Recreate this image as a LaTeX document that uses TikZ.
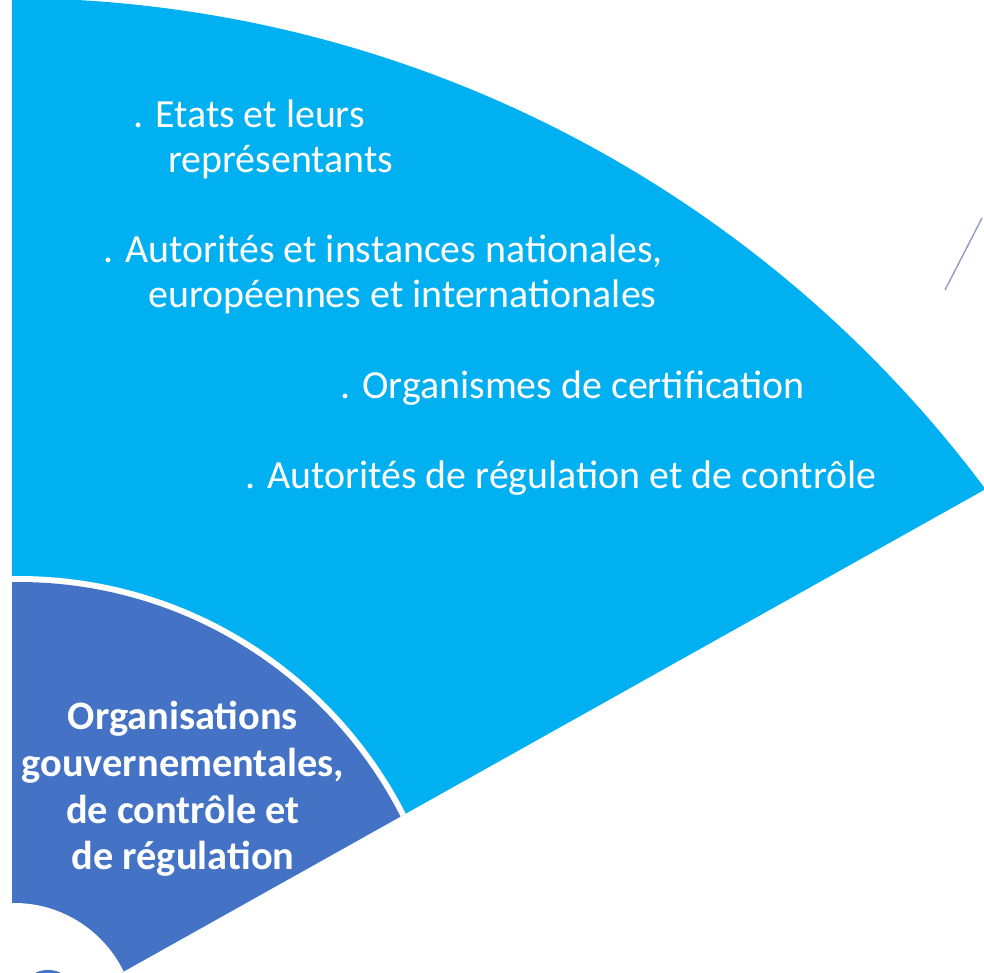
\documentclass[tikz,border=0pt]{standalone}
\usepackage{fontspec}
\setmainfont{Carlito}
\usepackage{tikz}
\usetikzlibrary{calc}
\definecolor{ringlight}{HTML}{00B0F0}
\definecolor{ringdark}{HTML}{4472C4}
\definecolor{tickline}{HTML}{8E9CC8}

\begin{document}
\begin{tikzpicture}[x=0.02cm,y=-0.02cm,
  item/.style={text=white,font=\fontsize{22.7}{26}\selectfont,anchor=base west,inner sep=0pt},
  title/.style={text=white,font=\bfseries\fontsize{23}{26.6}\selectfont,align=center,inner sep=0pt}]
\useasboundingbox (0,0) rectangle (984,973);

% sector pieces, cut at the left edge and along the radial line
\begin{scope}
\clip (12,0) -- (984,0) -- (984,490) -- (121,973) -- (12,973) -- cycle;
\fill[ringlight] (7,1218) circle[radius=1220];
\fill[white] (18,1011) circle[radius=435];
\fill[ringdark] (18,1011) circle[radius=429];
\fill[white] (14,1025) circle[radius=122];
%\fill[ringdark] (14,1025) circle[radius=60];
\fill[ringdark] (48,1000) circle[radius=30];
\end{scope}

\coordinate (L1) at (982,218);
\coordinate (L2) at (945,290);
\draw[tickline,line width=0.8pt] (L1) -- (L2);

\node[item] (T1) at (133,128) {. Etats et leurs};
\node[item] (T2) at (168,173) {représentants};
\node[item] (T3) at (103,263) {. Autorités et instances nationales,};
\node[item] (T4) at (148,308) {européennes et internationales};
\node[item] (T5) at (340,398) {. Organismes de certification};
\node[item] (T6) at (245,488) {. Autorités de régulation et de contrôle};

\node[title] (B1) at (183,789) {Organisations\\gouvernementales,\\de contrôle et\\de régulation};
\end{tikzpicture}
\end{document}
